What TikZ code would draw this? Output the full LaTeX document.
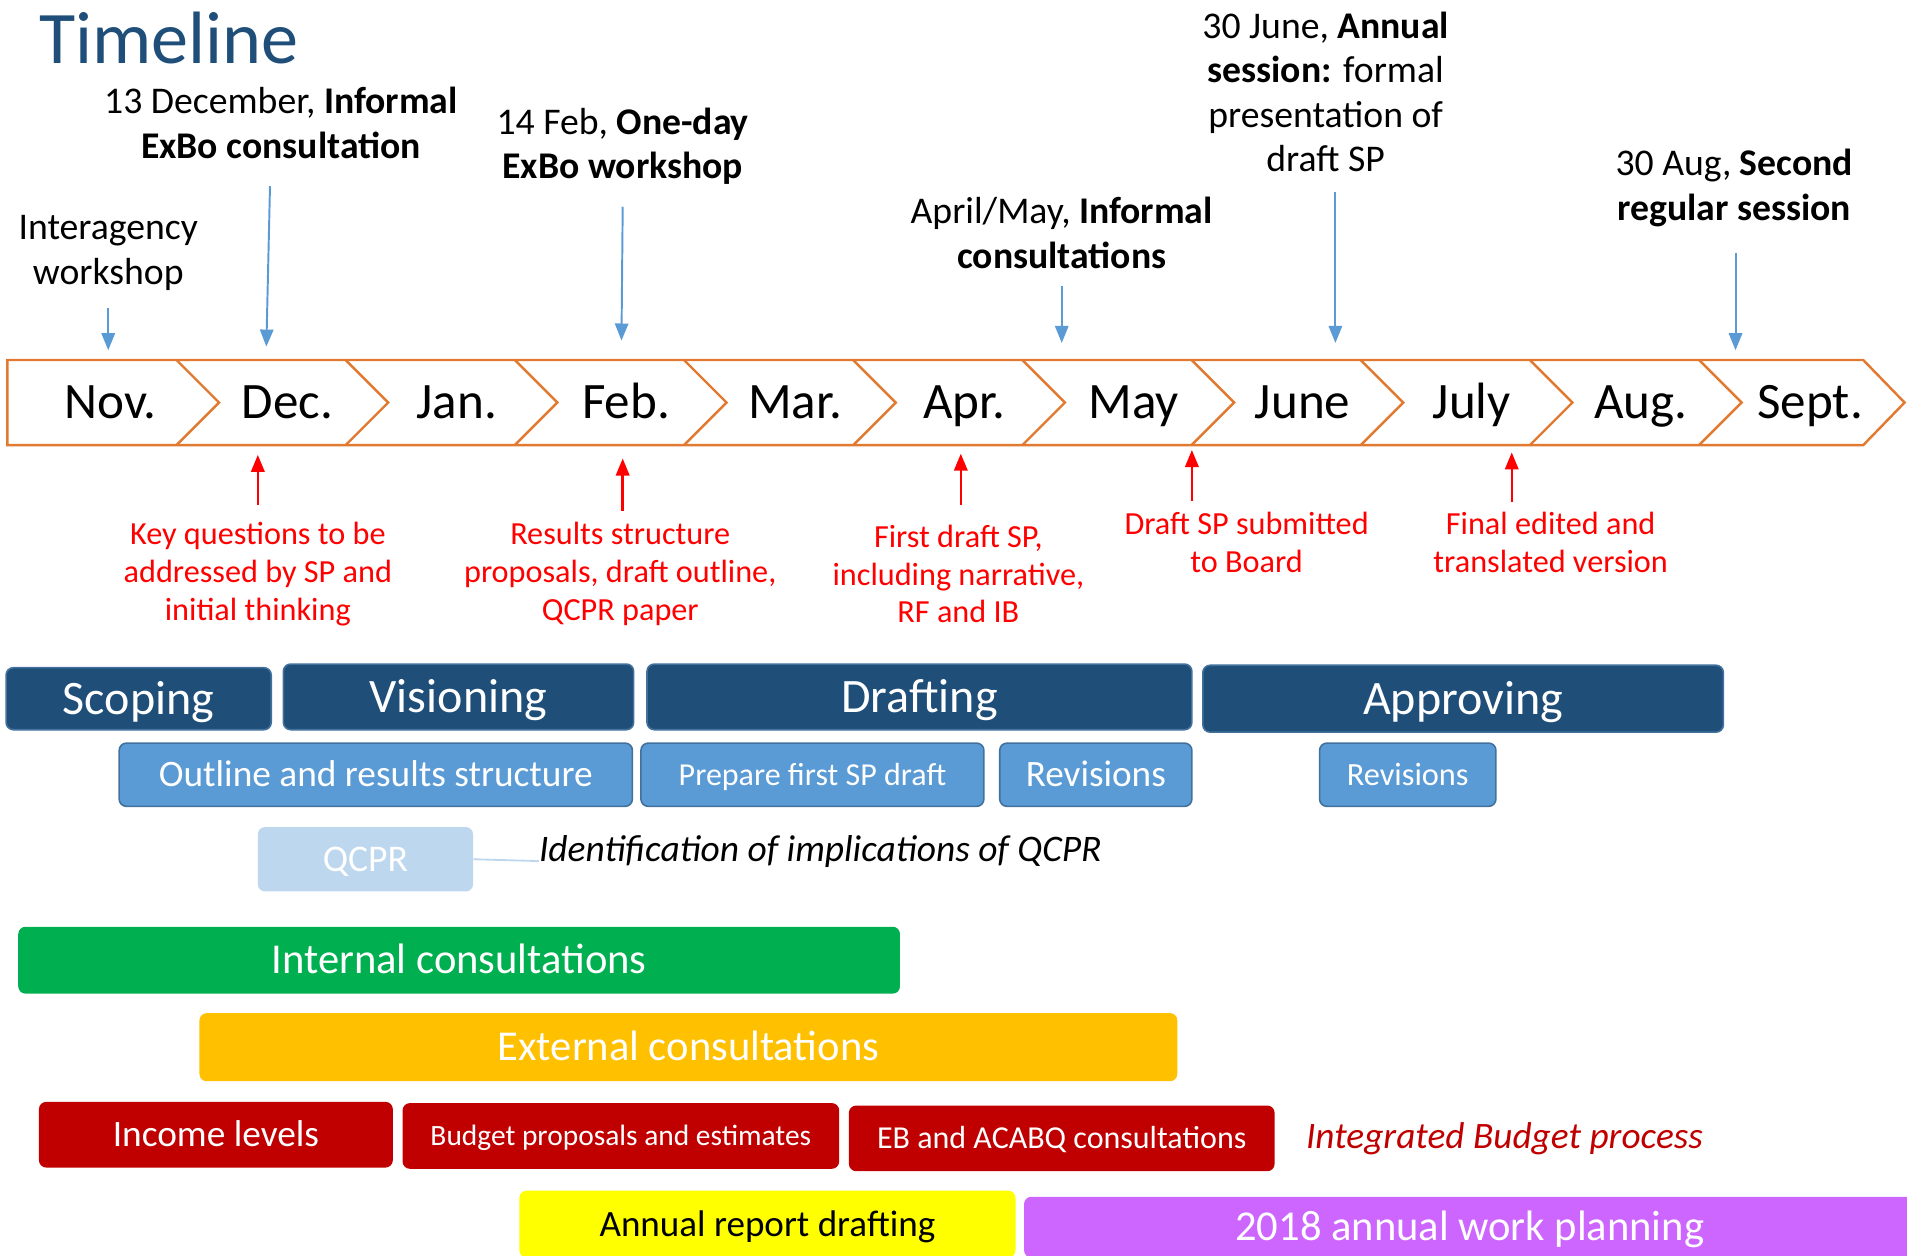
\documentclass[tikz,border=0pt]{standalone}
\usepackage{fontspec}
\setmainfont{Carlito}
\usetikzlibrary{arrows.meta}
\definecolor{tlorange}{RGB}{225,122,48}
\definecolor{titleblue}{RGB}{31,78,121}
\definecolor{arrowblue}{RGB}{91,155,213}
\definecolor{phaseblue}{RGB}{31,78,121}
\definecolor{phaseborder}{RGB}{65,113,156}
\definecolor{subblue}{RGB}{91,155,213}
\definecolor{subborder}{RGB}{65,113,156}
\definecolor{qcprblue}{RGB}{189,215,238}
\definecolor{annred}{RGB}{255,0,0}
\definecolor{intgreen}{RGB}{0,176,80}
\definecolor{extgold}{RGB}{255,192,0}
\definecolor{budgetred}{RGB}{192,0,0}
\definecolor{repyellow}{RGB}{255,255,0}
\definecolor{planpurple}{RGB}{204,102,255}
\tikzset{
  month/.style={font=\fontsize{42}{48}\selectfont, inner sep=0pt, anchor=base},
  ann/.style={align=center, font=\fontsize{31}{36.5}\selectfont, inner sep=0pt},
  redann/.style={align=center, text=annred, font=\fontsize{26.5}{31}\selectfont, inner sep=0pt},
  barrow/.style={draw=arrowblue, line width=1.6pt, -{Triangle[width=11pt,length=14pt]}},
  rarrow/.style={draw=annred, line width=2pt, -{Triangle[width=11pt,length=14pt]}},
  box/.style={rounded corners=6pt, inner sep=0pt, align=center,
    execute at begin node={\rule[-0.2em]{0pt}{1.044em}}},
  phase/.style={box, fill=phaseblue, draw=phaseborder, line width=1.3pt, text=white, font=\fontsize{39.5}{46}\selectfont},
  subbox/.style={box, fill=subblue, draw=subborder, line width=1.3pt, text=white},
  bar/.style={draw=tlorange, line width=2pt, line join=miter},
}
\begin{document}
\begin{tikzpicture}[x=1pt, y=-1pt]
\useasboundingbox (0,0) rectangle (1568,1032);

% title
\node[anchor=west, text=titleblue, font=\fontsize{61}{70}\selectfont, inner sep=0pt] (title) at (32,31) {Timeline};

% timeline bar
\fill[white] (6,296) -- (1532,296) -- (1566,331) -- (1532,366) -- (6,366) -- cycle;
\draw[bar] (6,296) -- (1532,296) -- (1566,331) -- (1532,366) -- (6,366) -- cycle;
\foreach \i in {1,...,10} {
  \draw[bar] ({6+139.1*\i},296) -- ({41+139.1*\i},331) -- ({6+139.1*\i},366);
}
\node[month] (m0) at (91,344.5) {Nov.};
\foreach \m [count=\i from 1] in {Dec.,Jan.,Feb.,Mar.,Apr.,May,June,July,Aug.,Sept.} {
  \node[month] (m\i) at ({97.4+139.1*\i},344.5) {\m};
}

% top annotations
\node[ann] (interag) at (89,208) {Interagency\\workshop};
\node[ann] (decann) at (231,101) {13 December, \textbf{Informal}\\\textbf{ExBo consultation}};
\node[ann] (febann) at (512,120) {14 Feb, \textbf{One-day}\\\textbf{ExBo workshop}};
\node[ann] (aprann) at (873,191.5) {April/May, \textbf{Informal}\\\textbf{consultations}};
\node[ann] (junann) at (1090,75.5) {30 June, \textbf{Annual}\\\textbf{session:} formal\\presentation of\\draft SP};
\node[ann] (augann) at (1426,154.5) {30 Aug, \textbf{Second}\\\textbf{regular session}};

\coordinate (b1s) at (89,253);   \coordinate (b1e) at (89,288);
\coordinate (b2s) at (222,153);  \coordinate (b2e) at (219,285);
\coordinate (b3s) at (512,170);  \coordinate (b3e) at (511,280);
\coordinate (b4s) at (873,235);  \coordinate (b4e) at (873,282);
\coordinate (b5s) at (1098,158); \coordinate (b5e) at (1098,282);
\coordinate (b6s) at (1427,208); \coordinate (b6e) at (1427,288);
\draw[barrow] (b1s) -- (b1e);
\draw[barrow] (b2s) -- (b2e);
\draw[barrow] (b3s) -- (b3e);
\draw[barrow] (b4s) -- (b4e);
\draw[barrow] (b5s) -- (b5e);
\draw[barrow] (b6s) -- (b6e);

% red annotations
\node[redann] (r1) at (212,472) {Key questions to be\\addressed by SP and\\initial thinking};
\node[redann] (r2) at (510,472) {Results structure\\proposals, draft outline,\\QCPR paper};
\node[redann] (r3) at (788,472) {First draft SP,\\including narrative,\\RF and IB};
\node[redann] (r4) at (1025,446) {Draft SP submitted\\to Board};
\node[redann] (r5) at (1275,446) {Final edited and\\translated version};

\coordinate (r1s) at (212,415);  \coordinate (r1e) at (212,374);
\coordinate (r2s) at (512,420);  \coordinate (r2e) at (512,377);
\coordinate (r3s) at (790,415);  \coordinate (r3e) at (790,373);
\coordinate (r4s) at (980,412);  \coordinate (r4e) at (980,370);
\coordinate (r5s) at (1243,413); \coordinate (r5e) at (1243,372);
\draw[rarrow] (r1s) -- (r1e);
\draw[rarrow] (r2s) -- (r2e);
\draw[rarrow] (r3s) -- (r3e);
\draw[rarrow] (r4s) -- (r4e);
\draw[rarrow] (r5s) -- (r5e);

% phases
\node[phase, minimum width=218pt, minimum height=51pt] (scoping) at (114,574.5) {Scoping};
\node[phase, minimum width=288pt, minimum height=54pt] (visioning) at (377,573) {Visioning};
\node[phase, minimum width=448pt, minimum height=54pt] (drafting) at (756,573) {Drafting};
\node[phase, minimum width=428pt, minimum height=55pt] (approving) at (1203,574.5) {Approving};

\node[subbox, minimum width=422pt, minimum height=52pt, font=\fontsize{30.7}{36}\selectfont] (outline) at (309,637) {Outline and results structure};
\node[subbox, minimum width=282pt, minimum height=52pt, font=\fontsize{26.3}{30}\selectfont] (prepare) at (668,637) {Prepare first SP draft};
\node[subbox, minimum width=158pt, minimum height=52pt, font=\fontsize{30.6}{35}\selectfont] (rev1) at (901,637) {Revisions};
\node[subbox, minimum width=145pt, minimum height=52pt, font=\fontsize{26.6}{30}\selectfont] (rev2) at (1157.5,637) {Revisions};

% QCPR
\node[box, fill=qcprblue, text=white, minimum width=177pt, minimum height=53pt, font=\fontsize{31}{35}\selectfont] (qcpr) at (300.5,706.5) {QCPR};
\node[anchor=west, inner sep=0pt, font=\fontsize{30.8}{35}\selectfont\itshape] (ident) at (443,700) {Identification of implications of QCPR};
\draw[draw=qcprblue, line width=1.5pt] (qcpr.east) -- ([yshift=-8pt]ident.west);

% consultations
\node[box, fill=intgreen, text=white, minimum width=725pt, minimum height=55pt, font=\fontsize{35}{40}\selectfont] (internal) at (377.5,789.5) {Internal consultations};
\node[box, fill=extgold, text=white, minimum width=804pt, minimum height=56pt, font=\fontsize{35}{40}\selectfont] (external) at (566,861) {External consultations};

% budget
\node[box, fill=budgetred, text=white, minimum width=291pt, minimum height=54pt, font=\fontsize{30.7}{36}\selectfont] (income) at (177.5,933) {Income levels};
\node[box, fill=budgetred, text=white, minimum width=359pt, minimum height=54pt, font=\fontsize{24.2}{28}\selectfont] (budget) at (510.5,934) {Budget proposals and estimates};
\node[box, fill=budgetred, text=white, minimum width=350pt, minimum height=54pt, font=\fontsize{26.3}{31}\selectfont] (ebacabq) at (873,936) {EB and ACABQ consultations};
\node[inner sep=0pt, text=budgetred, font=\fontsize{30.7}{36}\selectfont\itshape] (ibp) at (1237,936) {Integrated Budget process};

% bottom
\node[box, fill=repyellow, text=black, minimum width=408pt, minimum height=55pt, font=\fontsize{30.5}{34}\selectfont] (annrep) at (631,1006.5) {Annual report drafting};
\node[box, fill=planpurple, text=white, minimum width=733pt, minimum height=50pt, font=\fontsize{35}{40}\selectfont] (plan) at (1208.5,1009) {2018 annual work planning};
\end{tikzpicture}
\end{document}
